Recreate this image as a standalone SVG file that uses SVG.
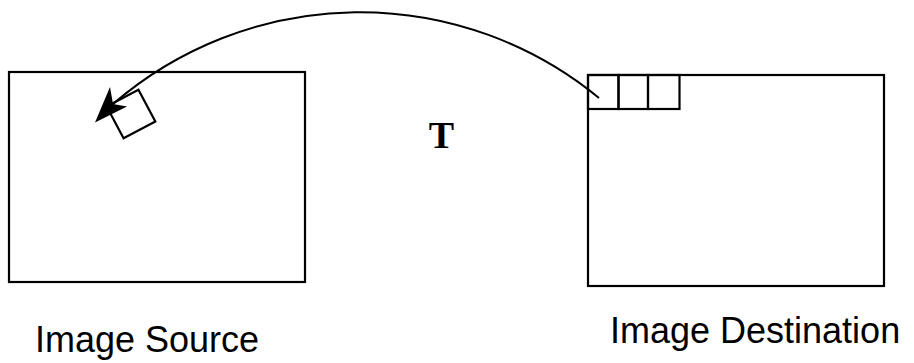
<svg xmlns="http://www.w3.org/2000/svg" width="914" height="363" viewBox="0 0 914 363">
<style>
.box{fill:none;stroke:#000;stroke-width:2.2}
.lbl{font-family:"Liberation Sans",Arial,sans-serif;font-size:36px;fill:#000}
.t{font-family:"Liberation Serif","Times New Roman",serif;font-size:38px;font-weight:bold;fill:#000}
</style>
<rect width="914" height="363" fill="#fff"/>
<g id="source">
<rect class="box" x="9" y="72" width="296" height="210"/>
<rect class="box" x="113" y="96" width="36" height="36" transform="rotate(-28 131 114)"/>
<text class="lbl" x="35" y="352">Image Source</text>
</g>
<g id="destination">
<rect class="box" x="588" y="75" width="296" height="211"/>
<rect class="box" x="588" y="75" width="30.5" height="34"/>
<rect class="box" x="618.5" y="75" width="29.5" height="34"/>
<rect class="box" x="648" y="75" width="31.5" height="34"/>
<text class="lbl" x="610" y="343">Image Destination</text>
</g>
<g id="label-T">
<text class="t" x="441.5" y="148" text-anchor="middle">T</text>
</g>
<g id="connectors">
<path d="M599 98 A377 377 0 0 0 113 104" fill="none" stroke="#000" stroke-width="2"/>
<polygon points="95,122.5 110,87 113,104 127,106.5" fill="#000"/>
</g>
</svg>
